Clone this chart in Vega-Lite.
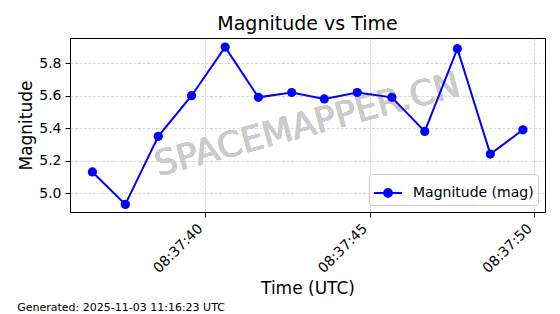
{
  "$schema": "https://vega.github.io/schema/vega-lite/v6.json",
  "padding": {"left": 17, "top": 14, "right": 15, "bottom": 4},
  "background": "white",
  "resolve": {"legend": {"color": "independent"}},
  "config": {
    "font": "DejaVu Sans",
    "view": {"stroke": "#000000", "strokeWidth": 1},
    "axis": {
      "domainColor": "#000000",
      "tickColor": "#000000",
      "tickSize": 5,
      "labelColor": "#000000",
      "labelFontSize": 14,
      "labelPadding": 4,
      "titleColor": "#000000",
      "titleFontSize": 17,
      "titleFontWeight": "normal",
      "gridColor": "#b0b0b0",
      "gridOpacity": 0.6,
      "gridDash": [3, 1.5],
      "gridWidth": 0.8
    }
  },
  "title": {
    "text": "Generated: 2025-11-03 11:16:23 UTC",
    "orient": "bottom",
    "anchor": "start",
    "frame": "bounds",
    "fontSize": 11,
    "fontWeight": "normal",
    "color": "#000000",
    "offset": 5
  },
  "vconcat": [
    {
      "width": 475,
      "height": 174,
      "title": {
        "text": "Magnitude vs Time",
        "fontSize": 19,
        "fontWeight": "normal",
        "color": "#000000",
        "anchor": "middle",
        "frame": "group",
        "offset": 4
      },
      "data": {
        "values": [
          {"time": "2025-11-03T08:37:36.580", "magnitude": 5.13, "series": "Magnitude (mag)"},
          {"time": "2025-11-03T08:37:37.580", "magnitude": 4.93, "series": "Magnitude (mag)"},
          {"time": "2025-11-03T08:37:38.580", "magnitude": 5.35, "series": "Magnitude (mag)"},
          {"time": "2025-11-03T08:37:39.590", "magnitude": 5.60, "series": "Magnitude (mag)"},
          {"time": "2025-11-03T08:37:40.610", "magnitude": 5.90, "series": "Magnitude (mag)"},
          {"time": "2025-11-03T08:37:41.620", "magnitude": 5.59, "series": "Magnitude (mag)"},
          {"time": "2025-11-03T08:37:42.630", "magnitude": 5.62, "series": "Magnitude (mag)"},
          {"time": "2025-11-03T08:37:43.620", "magnitude": 5.58, "series": "Magnitude (mag)"},
          {"time": "2025-11-03T08:37:44.620", "magnitude": 5.62, "series": "Magnitude (mag)"},
          {"time": "2025-11-03T08:37:45.670", "magnitude": 5.59, "series": "Magnitude (mag)"},
          {"time": "2025-11-03T08:37:46.670", "magnitude": 5.38, "series": "Magnitude (mag)"},
          {"time": "2025-11-03T08:37:47.660", "magnitude": 5.89, "series": "Magnitude (mag)"},
          {"time": "2025-11-03T08:37:48.660", "magnitude": 5.24, "series": "Magnitude (mag)"},
          {"time": "2025-11-03T08:37:49.650", "magnitude": 5.39, "series": "Magnitude (mag)"}
        ]
      },
      "layer": [
        {
          "mark": {"type": "text", "text": "SPACEMAPPER.CN", "fontSize": 35, "fill": "#cbcbcb", "angle": 345, "align": "center", "baseline": "middle"},
          "encoding": {
            "x": {"datum": {"year": 2025, "month": 11, "date": 3, "hours": 8, "minutes": 37, "seconds": 43, "milliseconds": 110}, "type": "temporal"},
            "y": {"datum": 5.42, "type": "quantitative"}
          }
        },
        {
          "mark": {"type": "line", "strokeWidth": 2, "point": {"filled": true, "size": 85, "opacity": 1}},
          "encoding": {
            "x": {
              "field": "time",
              "type": "temporal",
              "title": "Time (UTC)",
              "scale": {
                "domain": [
                  {"year": 2025, "month": 11, "date": 3, "hours": 8, "minutes": 37, "seconds": 35, "milliseconds": 900},
                  {"year": 2025, "month": 11, "date": 3, "hours": 8, "minutes": 37, "seconds": 50, "milliseconds": 320}
                ],
                "nice": false
              },
              "axis": {
                "values": [
                  {"year": 2025, "month": 11, "date": 3, "hours": 8, "minutes": 37, "seconds": 40},
                  {"year": 2025, "month": 11, "date": 3, "hours": 8, "minutes": 37, "seconds": 45},
                  {"year": 2025, "month": 11, "date": 3, "hours": 8, "minutes": 37, "seconds": 50}
                ],
                "format": "%H:%M:%S",
                "labelAngle": -45,
                "labelAlign": "right",
                "labelBaseline": "bottom",
                "labelPadding": 14,
                "titlePadding": 5,
                "grid": true
              }
            },
            "y": {
              "field": "magnitude",
              "type": "quantitative",
              "title": "Magnitude",
              "scale": {"domain": [4.883, 5.956], "nice": false, "zero": false},
              "axis": {
                "values": [5.0, 5.2, 5.4, 5.6, 5.8],
                "format": ".1f",
                "titlePadding": 3,
                "grid": true
              }
            },
            "color": {
              "field": "series",
              "type": "nominal",
              "scale": {"domain": ["Magnitude (mag)"], "range": ["#0000ff"]},
              "legend": {
                "title": null,
                "orient": "bottom-right",
                "offset": 7,
                "symbolType": "M-1,0L1,0M0.28,0A0.28,0.28,0,1,1,-0.28,0A0.28,0.28,0,1,1,0.28,0Z",
                "symbolSize": 784,
                "symbolStrokeWidth": 2,
                "symbolFillColor": "#0000ff",
                "symbolStrokeColor": "#0000ff",
                "labelFontSize": 14,
                "labelColor": "#000000",
                "labelOffset": 10,
                "padding": 4,
                "fillColor": "rgba(255,255,255,0.8)",
                "strokeColor": "#cccccc",
                "cornerRadius": 3
              }
            }
          }
        }
      ]
    }
  ]
}
